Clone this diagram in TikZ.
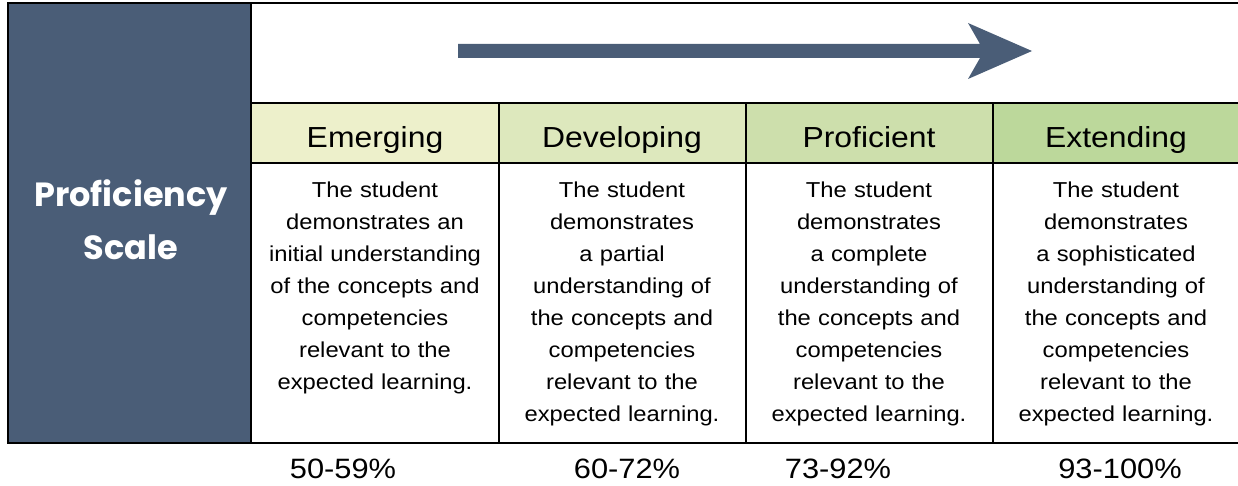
\documentclass[tikz,border=0pt]{standalone}
\usepackage{fontspec}
\setmainfont{Liberation Sans}[FakeStretch=1.1]
\newfontfamily\titlefont{Poppins Bold}
\definecolor{panel}{HTML}{4A5D77}
\definecolor{hA}{HTML}{EDF0CB}
\definecolor{hB}{HTML}{DDE8BD}
\definecolor{hC}{HTML}{CDDFAC}
\definecolor{hD}{HTML}{BCD89B}
\tikzset{
  grid/.style={line width=2.4pt, draw=black},
  head/.style={anchor=base, inner sep=0pt, font=\fontsize{29}{34}\selectfont},
  body/.style={anchor=north, inner sep=0pt, align=center, text width=240pt, font=\fontsize{21.6}{32}\selectfont},
  pct/.style={anchor=base, inner sep=0pt, font=\fontsize{28}{32}\selectfont},
  ttl/.style={anchor=base, inner sep=0pt, text=white, font=\titlefont\fontsize{33.5}{40}\selectfont},
}
\begin{document}
\begin{tikzpicture}[x=1pt,y=-1pt]
\useasboundingbox (0,0) rectangle (1238,486);
% backgrounds
\fill[panel] (8,3) rectangle (251,443);
\fill[hA] (251,103) rectangle (499,163);
\fill[hB] (499,103) rectangle (746,163);
\fill[hC] (746,103) rectangle (993,163);
\fill[hD] (993,103) rectangle (1238,163);
% arrow
\fill[panel] (458,44) -- (980,44) -- (968,23) -- (1032,51) -- (968,79) -- (980,58) -- (458,58) -- cycle;
% grid
\draw[grid] (1238,3) -- (8,3) -- (8,443) -- (1238,443);
\draw[grid] (251,3) -- (251,443);
\draw[grid] (251,103) -- (1238,103);
\draw[grid] (251,163) -- (1238,163);
\draw[grid] (499,103) -- (499,443);
\draw[grid] (746,103) -- (746,443);
\draw[grid] (993,103) -- (993,443);
% title
\node[ttl] (t1) at (131,207) {Proficiency};
\node[ttl] (t2) at (131,259) {Scale};
% headers
\node[head] (h1) at (375,148) {Emerging};
\node[head] (h2) at (622,148) {Developing};
\node[head] (h3) at (869,148) {Proficient};
\node[head] (h4) at (1116,148) {Extending};
% bodies
\node[body] (b1) at (375,182) {The student\\demonstrates an\\initial understanding\\of the concepts and\\competencies\\relevant to the\\expected learning.};
\node[body] (b2) at (622,182) {The student\\demonstrates\\a partial\\understanding of\\the concepts and\\competencies\\relevant to the\\expected learning.};
\node[body] (b3) at (869,182) {The student\\demonstrates\\a complete\\understanding of\\the concepts and\\competencies\\relevant to the\\expected learning.};
\node[body] (b4) at (1116,182) {The student\\demonstrates\\a sophisticated\\understanding of\\the concepts and\\competencies\\relevant to the\\expected learning.};
% percentages
\node[pct] (p1) at (343,478) {50-59\%};
\node[pct] (p2) at (627,478) {60-72\%};
\node[pct] (p3) at (838,478) {73-92\%};
\node[pct] (p4) at (1120,478) {93-100\%};
\end{tikzpicture}
\end{document}
